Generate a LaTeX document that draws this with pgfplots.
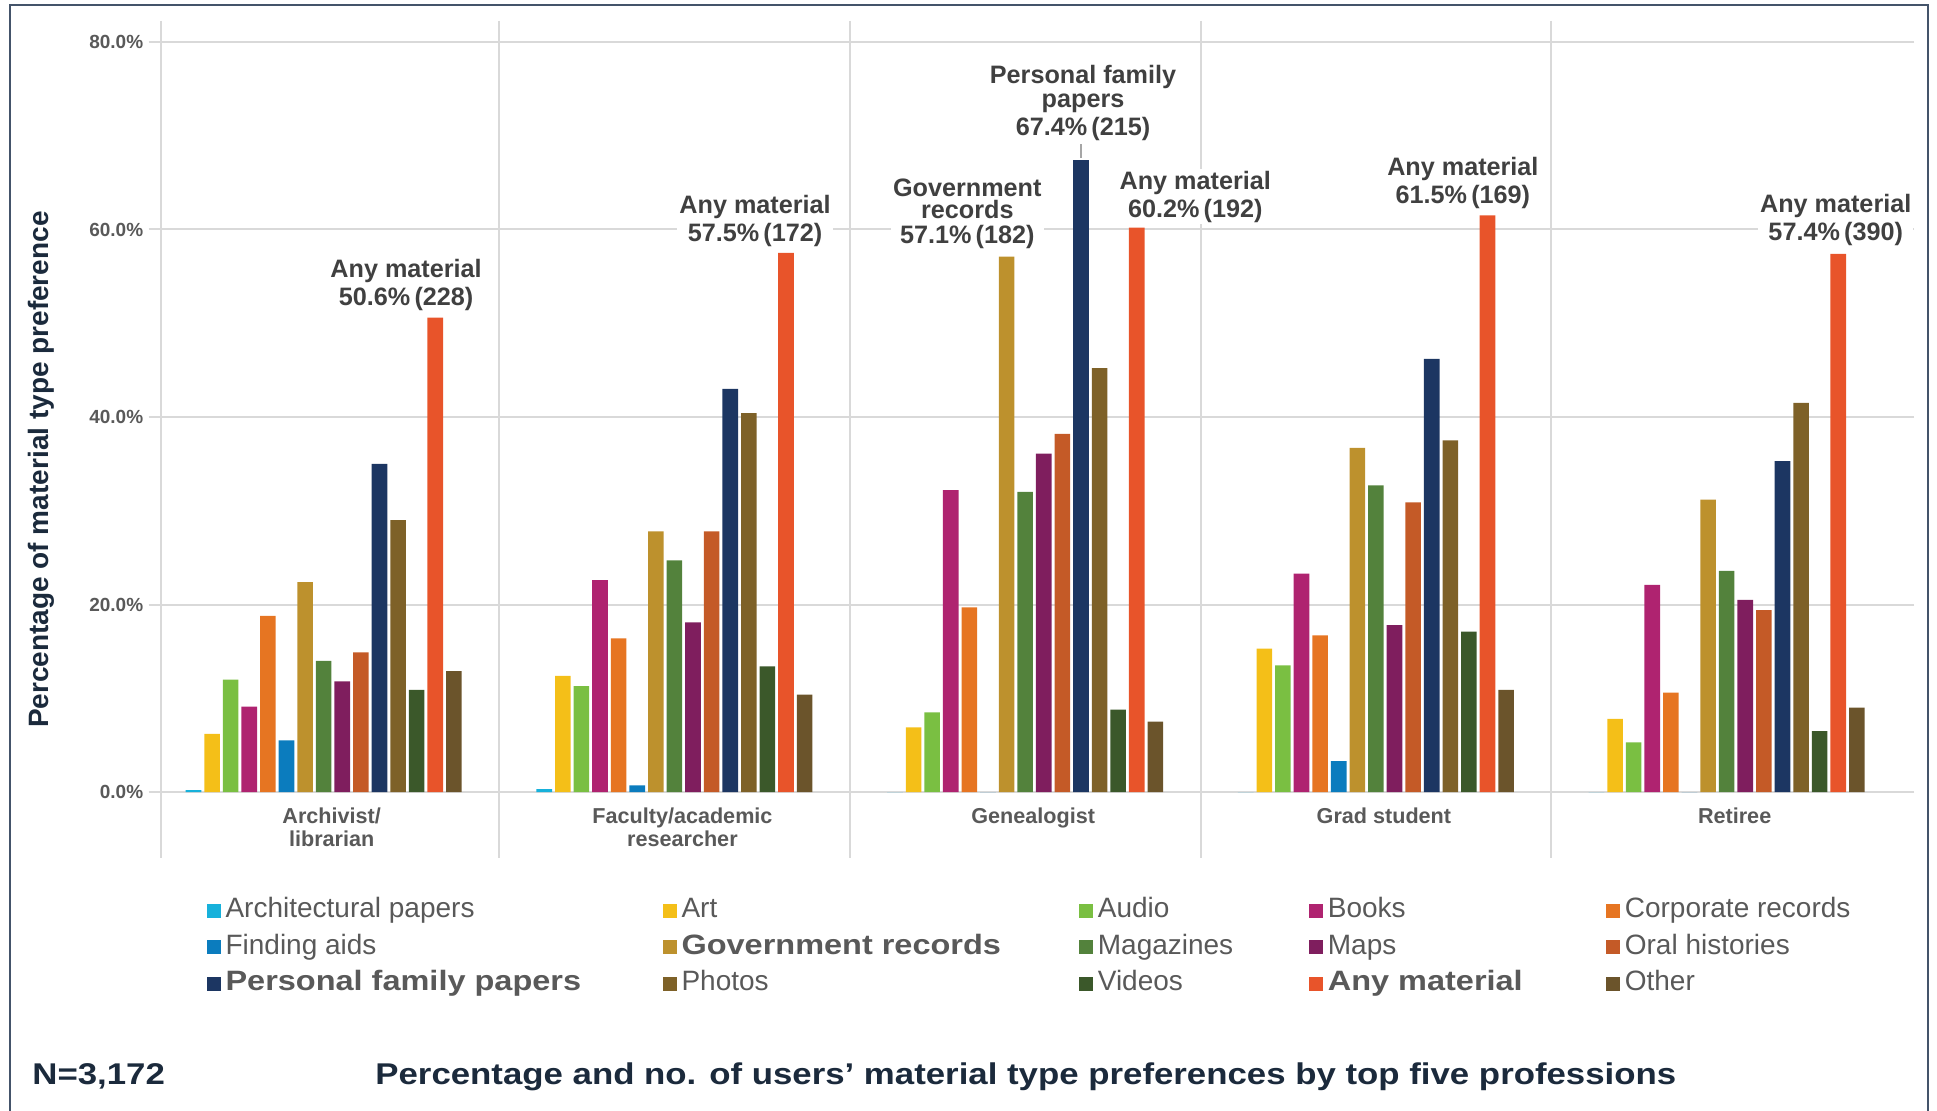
\documentclass[border=0pt]{standalone}
\usepackage{pgfplots}
\pgfplotsset{compat=1.18}
\usepackage{pgfplotstable}
\usepackage{fontspec}
\setmainfont{Liberation Sans}
\newfontfamily\widefont[FakeStretch=1.16]{Liberation Sans}

\definecolor{cArch}{HTML}{17B1DB}
\definecolor{cArt}{HTML}{F4BF18}
\definecolor{cAudio}{HTML}{7ABF42}
\definecolor{cBooks}{HTML}{AF2370}
\definecolor{cCorp}{HTML}{E67522}
\definecolor{cFind}{HTML}{0B7CBE}
\definecolor{cGov}{HTML}{BD912D}
\definecolor{cMag}{HTML}{53823C}
\definecolor{cMaps}{HTML}{7F1E5E}
\definecolor{cOral}{HTML}{C45A27}
\definecolor{cPers}{HTML}{1C3662}
\definecolor{cPhoto}{HTML}{7E6128}
\definecolor{cVideo}{HTML}{3B582A}
\definecolor{cAny}{HTML}{E8542A}
\definecolor{cOther}{HTML}{6B542B}
\definecolor{gridc}{HTML}{D9D9D9}
\definecolor{tickc}{HTML}{595959}
\definecolor{annc}{HTML}{404040}
\definecolor{navy}{HTML}{1B2A3C}
\definecolor{framec}{HTML}{44546A}

% percent of users per profession (rows) and material type (columns)
\pgfplotstableread{
x arch art audio books corp find gov mag maps oral pers photo video any other
0 0.2 6.2 12.0 9.1 18.8 5.5 22.4 14.0 11.8 14.9 35.0 29.0 10.9 50.6 12.9
1 0.3 12.4 11.3 22.6 16.4 0.7 27.8 24.7 18.1 27.8 43.0 40.4 13.4 57.5 10.4
2 0 6.9 8.5 32.2 19.7 0 57.1 32.0 36.1 38.2 67.4 45.2 8.8 60.2 7.5
3 0 15.3 13.5 23.3 16.7 3.3 36.7 32.7 17.8 30.9 46.2 37.5 17.1 61.5 10.9
4 0 7.8 5.3 22.1 10.6 0 31.2 23.6 20.5 19.4 35.3 41.5 6.5 57.4 9.0
}\datatable

\tikzset{anno/.style={font=\fontsize{12.6}{14}\selectfont\bfseries, text=annc,
  fill=white, inner sep=1pt, align=center, anchor=south}}

\begin{document}
\begin{tikzpicture}
\useasboundingbox (0pt,0pt) rectangle (968.5pt,-555.5pt);
\begin{axis}[
  at={(80.3pt,-396pt)}, anchor=south west,
  scale only axis, width=870.7pt, height=375pt,
  xmin=-0.465, xmax=4.5, ymin=0, ymax=80,
  ybar=1.5pt, bar width=7.8pt,
  axis line style={draw=none},
  clip=false,
  xtick={0,1,2,3,4},
  xticklabels={{Archivist/\\librarian},{Faculty/academic\\researcher},Genealogist,Grad student,Retiree},
  xticklabel style={align=center, font=\fontsize{10.8}{11.65}\selectfont\bfseries,
    text=tickc, inner sep=0pt, yshift=-1.5pt, xshift=4pt},
  x tick style={draw=none},
  ytick={0,20,40,60,80},
  yticklabels={0.0\%,20.0\%,40.0\%,60.0\%,80.0\%},
  yticklabel style={font=\fontsize{9.5}{11}\selectfont\bfseries, text=tickc, inner sep=1pt, xshift=-1.5pt},
  ymajorgrids, grid style={gridc, line width=1pt},
  y tick style={gridc, line width=1pt},
  tick align=outside, major tick length=6pt,
  legend columns=5,
  legend cell align=left,
  legend style={at={(0.0265,-0.1387)}, anchor=north west, xshift=-3pt, yshift=1.25pt,
    draw=none, fill=none, column sep=0pt, row sep=5.25pt,
    font=\fontsize{14}{16}\selectfont,
    nodes={inner sep=0pt, text height=10pt, text depth=3pt, text=tickc}},
  legend image code/.code={\fill[#1] (0pt,-3.5pt) rectangle (7pt,3.5pt);},
]
\addplot[fill=cArch, draw=none] table[x=x, y=arch] {\datatable};
\addlegendentry{\makebox[221pt][l]{\hspace{2.2pt}Architectural papers}}
\addplot[fill=cArt, draw=none] table[x=x, y=art] {\datatable};
\addlegendentry{\makebox[201.15pt][l]{\hspace{2.2pt}Art}}
\addplot[fill=cAudio, draw=none] table[x=x, y=audio] {\datatable};
\addlegendentry{\makebox[108pt][l]{\hspace{2.2pt}Audio}}
\addplot[fill=cBooks, draw=none] table[x=x, y=books] {\datatable};
\addlegendentry{\makebox[141.5pt][l]{\hspace{2.2pt}Books}}
\addplot[fill=cCorp, draw=none] table[x=x, y=corp] {\datatable};
\addlegendentry{\hspace{2.2pt}Corporate records}
\addplot[fill=cFind, draw=none] table[x=x, y=find] {\datatable};
\addlegendentry{\makebox[221pt][l]{\hspace{2.2pt}Finding aids}}
\addplot[fill=cGov, draw=none] table[x=x, y=gov] {\datatable};
\addlegendentry{\makebox[201.15pt][l]{\hspace{2.2pt}\widefont\bfseries Government records}}
\addplot[fill=cMag, draw=none] table[x=x, y=mag] {\datatable};
\addlegendentry{\makebox[108pt][l]{\hspace{2.2pt}Magazines}}
\addplot[fill=cMaps, draw=none] table[x=x, y=maps] {\datatable};
\addlegendentry{\makebox[141.5pt][l]{\hspace{2.2pt}Maps}}
\addplot[fill=cOral, draw=none] table[x=x, y=oral] {\datatable};
\addlegendentry{\hspace{2.2pt}Oral histories}
\addplot[fill=cPers, draw=none] table[x=x, y=pers] {\datatable};
\addlegendentry{\makebox[221pt][l]{\hspace{2.2pt}\widefont\bfseries Personal family papers}}
\addplot[fill=cPhoto, draw=none] table[x=x, y=photo] {\datatable};
\addlegendentry{\makebox[201.15pt][l]{\hspace{2.2pt}Photos}}
\addplot[fill=cVideo, draw=none] table[x=x, y=video] {\datatable};
\addlegendentry{\makebox[108pt][l]{\hspace{2.2pt}Videos}}
\addplot[fill=cAny, draw=none] table[x=x, y=any] {\datatable};
\addlegendentry{\makebox[141.5pt][l]{\hspace{2.2pt}\widefont\bfseries Any material}}
\addplot[fill=cOther, draw=none] table[x=x, y=other] {\datatable};
\addlegendentry{\hspace{2.2pt}Other}

% group separators
\pgfplotsinvokeforeach{-0.465,0.5,1.5,2.5,3.5}{
  \draw[gridc, line width=1pt] (axis cs:#1,82.24) -- (axis cs:#1,-7);
}
% callouts
\draw[black!35, line width=0.75pt] (axis cs:2.159,67.6) -- (axis cs:2.159,69.1);
\node[anno] at (axis cs:0.235,51.1) {Any material\\50.6\%\,(228)};
\node[anno] at (axis cs:1.230,57.9) {Any material\\57.5\%\,(172)};
\node[anno] at (axis cs:1.835,57.7) {Government\\[-3pt]records\\[-1.5pt]57.1\%\,(182)};
\node[anno] at (axis cs:2.165,69.2) {Personal family\\[-2pt]papers\\67.4\%\,(215)};
\node[anno] at (axis cs:2.485,60.5) {Any material\\60.2\%\,(192)};
\node[anno] at (axis cs:3.248,62.0) {Any material\\61.5\%\,(169)};
\node[anno] at (axis cs:4.311,58.0) {Any material\\57.4\%\,(390)};
\end{axis}

\draw[framec, line width=0.75pt] (4.9pt,-555.5pt) -- (4.9pt,-2.5pt) -- (964pt,-2.5pt) -- (964pt,-555.5pt);
\node[rotate=90, font=\fontsize{14}{16}\selectfont\bfseries, text=navy] at (20.5pt,-234.8pt)
  {Percentage of material type preference};
\node[anchor=base west, inner sep=0pt, font=\widefont\fontsize{15}{18}\selectfont\bfseries, text=navy]
  at (16pt,-542pt) {N=3,172};
\node[anchor=base west, inner sep=0pt, font=\widefont\fontsize{15}{18}\selectfont\bfseries, text=navy]
  at (187.5pt,-542pt) {Percentage and no. of users’ material type preferences by top five professions};
\end{tikzpicture}
\end{document}
